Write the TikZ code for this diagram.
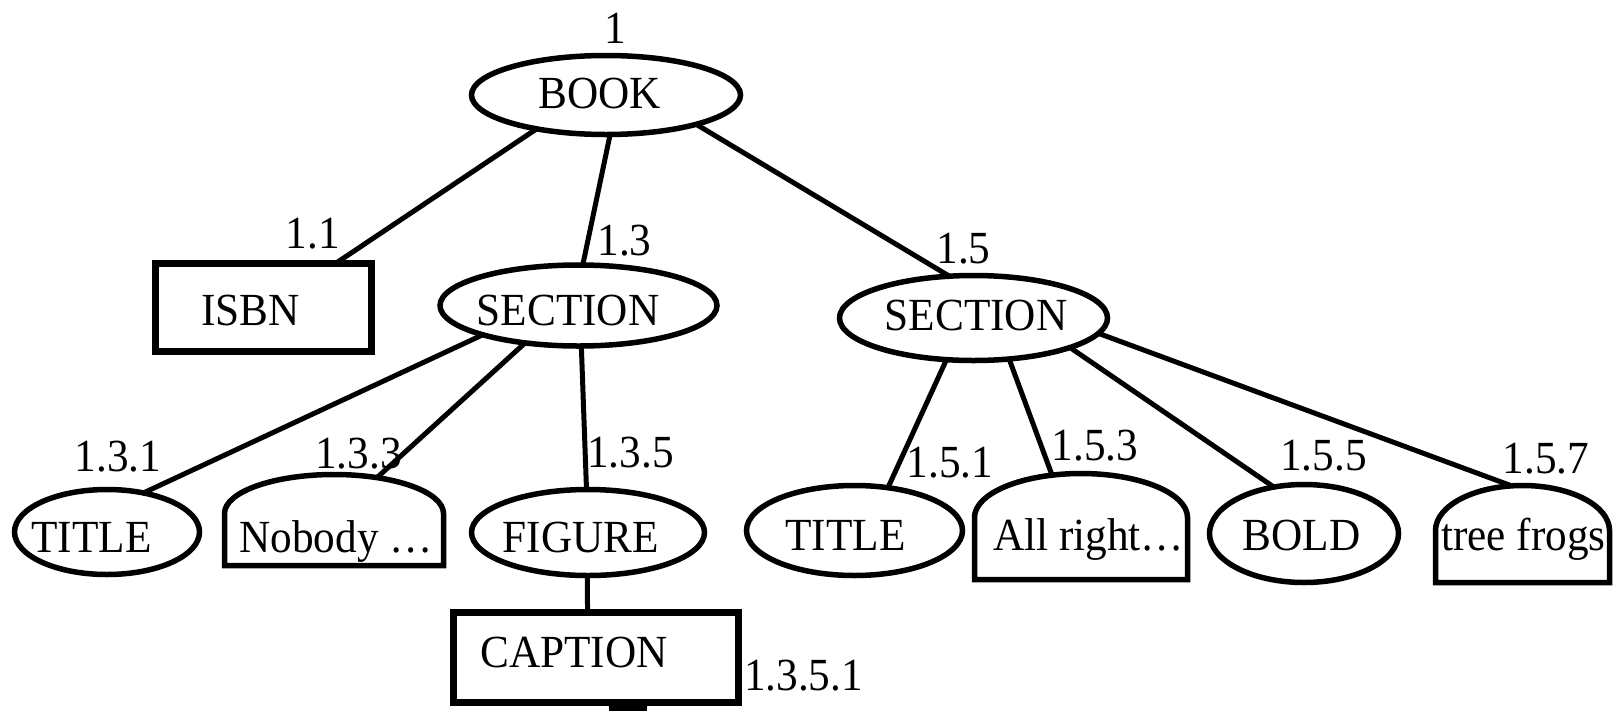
\documentclass[tikz,border=0pt]{standalone}
\usepackage{fontspec}
\setmainfont{Liberation Serif}[FakeStretch=0.94]
\usetikzlibrary{shapes.geometric}
\begin{document}
\begin{tikzpicture}[x=1pt,y=-1pt,
  ell/.style={ellipse, draw, line width=5.5pt, inner sep=0pt, outer sep=0pt},
  box/.style={rectangle, draw, line width=7pt, inner sep=0pt, outer sep=0pt},
  archline/.style={line width=5.5pt},
  conn/.style={line width=5pt},
  txt/.style={anchor=base, inner sep=0pt, font=\fontsize{46}{50}\selectfont},
]
\useasboundingbox (0,0) rectangle (1623,710);

% shapes
\node[ell, minimum width=269pt, minimum height=79pt] (book) at (606,95) {};
\node[box, minimum width=216pt, minimum height=88pt] (isbn) at (263,307) {};
\node[ell, minimum width=277pt, minimum height=81pt] (secL) at (578.5,305.5) {};
\node[ell, minimum width=268pt, minimum height=85pt] (secR) at (973.5,318) {};
\node[ell, minimum width=185pt, minimum height=85pt] (titleL) at (107,532) {};
\node[ell, minimum width=233pt, minimum height=86pt] (figure) at (588,532.5) {};
\node[ell, minimum width=216pt, minimum height=90pt] (titleR) at (854.5,530.5) {};
\node[ell, minimum width=189pt, minimum height=98pt] (bold) at (1304,533.5) {};
\node[box, minimum width=285pt, minimum height=90pt] (caption) at (595.5,657) {};

% arched text boxes
\draw[archline] (224.5,565.5) -- (224.5,513.5)
  arc[start angle=180, end angle=0, x radius=109.5pt, y radius=39pt] -- (443.5,565.5) -- cycle;
\draw[archline] (974.5,579.5) -- (974.5,517.5)
  arc[start angle=180, end angle=0, x radius=106.5pt, y radius=44pt] -- (1187.5,579.5) -- cycle;
\draw[archline] (1435.5,582.5) -- (1435.5,530.5)
  arc[start angle=180, end angle=0, x radius=87pt, y radius=45pt] -- (1609.5,582.5) -- cycle;
\coordinate (nobodyTop) at (377,477.6);
\coordinate (allrightTop) at (1052,475);
\coordinate (frogsTop) at (1512,486);

% stub below caption
\node[fill, inner sep=0pt, outer sep=0pt, minimum width=38pt, minimum height=10pt, anchor=north] (stub) at (628,703) {};

% connectors
\draw[conn] (book.206.9) -- (isbn.31.4);
\draw[conn] (book.-84) -- (secL.84);
\draw[conn] (book.-18.4) -- (secR.120);
\draw[conn] (secL.197) -- (titleL.47.4);
\draw[conn] (secL.215.5) -- (nobodyTop);
\draw[conn] (secL.-86) -- (figure.92.6);
\draw[conn] (figure.269.5) -- (caption.100.7);
\draw[conn] (secR.237) -- (titleR.52.3);
\draw[conn] (secR.-49) -- (allrightTop);
\draw[conn] (secR.-17) -- (bold.123);
\draw[conn] (secR.-7) -- (frogsTop);

% texts
\node[txt] (bookT) at (599.5,108) {BOOK};
\node[txt] (isbnT) at (250.5,325) {ISBN};
\node[txt] (secLT) at (568,325) {SECTION};
\node[txt] (secRT) at (976,330) {SECTION};
\node[txt] (titleLT) at (91.5,552) {TITLE};
\node[txt] (nobodyT) at (336,552) {Nobody …};
\node[txt] (figureT) at (581,552) {FIGURE};
\node[txt] (titleRT) at (845.5,550) {TITLE};
\node[txt] (allrightT) at (1088.5,550) {All right…};
\node[txt] (boldT) at (1301.5,550) {BOLD};
\node[txt] (frogsT) at (1523.5,550) {tree frogs};
\node[txt] (captionT) at (574,667) {CAPTION};

% numbers
\node[txt] (n1) at (615,43) {1};
\node[txt] (n11) at (313,248) {1.1};
\node[txt] (n13) at (624.5,255) {1.3};
\node[txt] (n15) at (963.5,263) {1.5};
\node[txt] (n131) at (118,471) {1.3.1};
\node[txt] (n133) at (358.5,468) {1.3.3};
\node[txt] (n135) at (630.5,467) {1.3.5};
\node[txt] (n151) at (950,477) {1.5.1};
\node[txt] (n153) at (1095,460) {1.5.3};
\node[txt] (n155) at (1323.5,470) {1.5.5};
\node[txt] (n157) at (1546,473) {1.5.7};
\node[txt] (n1351) at (803.5,690) {1.3.5.1};
\end{tikzpicture}
\end{document}
